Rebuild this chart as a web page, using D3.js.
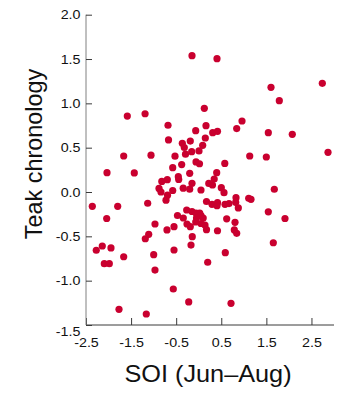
<!DOCTYPE html>
<html>
<head>
<meta charset="utf-8">
<script src="https://cdn.jsdelivr.net/npm/d3@7"></script>
<style>
  html, body { margin: 0; padding: 0; background: #fff; }
  svg { display: block; font-family: "Liberation Sans", Arial, Helvetica, sans-serif; }
</style>
</head>
<body>
<svg id="chart" width="360" height="400"></svg>
<script>
// SOI (Jun–Aug) values
const soi = [
  -1.584, -1.19, -0.149, 0.124, 0.405, 1.603, 2.741, 1.787, 0.96, -0.681,
  0.161, -0.067, 0.31, 0.416, -0.67, 0.146, -0.364, -0.187, -0.32, 0.088,
  0.006, -0.156, -0.293, -0.526, -1.664, -1.058, -0.06, 0.017, -0.378, -0.577,
  -2.034, -1.429, -0.2, 0.399, -0.453, -0.444, -0.697, -0.819, -0.149, 0.343,
  0.223, 0.305, 0.501, -0.881, -0.837, -0.577, -0.692, -0.344, -0.2, 0.05,
  -0.726, -1.132, -2.36, -1.797, 0.172, 0.294, 0.416, 0.405, 0.583, 0.671,
  0.827, 0.82, 1.108, 1.159, 0.878, 1.543, 0.62, 1.913, 0.805, 1.131,
  1.499, 2.867, 0.578, 1.543, 2.075, 0.842, 1.676, 0.561, -2.041, -0.471,
  -0.342, -0.267, -0.149, -0.06, 0.022, 0.05, 0.099, -0.049, 0.05, 0.139,
  -0.067, -0.26, -0.187, -0.143, -0.171, 0.172, 0.416, -0.97, -0.704, -0.548,
  -1.109, -1.185, -0.999, -0.97, -0.548, -0.564, -0.222, 0.199, 0.789, 0.842,
  1.654, 0.589, 0.716, -2.272, -2.139, -1.946, -2.094, -1.983, -1.664, -1.768,
  -1.163
];
// Teak chronology values
const teak = [
  0.857, 0.883, 1.538, 0.944, 1.504, 1.181, 1.226, 1.03, 0.801, 0.753,
  0.748, 0.692, 0.669, 0.685, 0.587, 0.609, 0.55, 0.575, 0.502, 0.527,
  0.463, 0.455, 0.427, 0.404, 0.406, 0.415, 0.339, 0.319, 0.31, 0.274,
  0.218, 0.215, 0.211, 0.218, 0.173, 0.141, 0.139, 0.119, 0.098, 0.147,
  0.097, 0.079, 0.049, 0.04, 0.0, 0.017, -0.036, 0.043, 0.032, 0.023,
  -0.092, -0.127, -0.161, -0.161, -0.107, -0.139, -0.12, -0.154, -0.139, -0.13,
  -0.064, -0.116, -0.071, -0.082, -0.18, -0.224, -0.302, -0.299, -0.342, 0.406,
  0.395, 0.448, 0.322, 0.669, 0.651, 0.716, 0.031, -0.008, -0.299, -0.265,
  -0.293, -0.203, -0.22, -0.237, -0.237, -0.265, -0.293, -0.293, -0.355, -0.372,
  -0.338, -0.361, -0.391, -0.504, -0.598, -0.425, -0.437, -0.361, -0.428, -0.391,
  -0.477, -0.527, -0.707, -0.88, -0.654, -1.094, -1.24, -0.792, -0.428, -0.466,
  -0.572, -0.684, -1.255, -0.657, -0.609, -0.631, -0.808, -0.808, -0.73, -1.323,
  -1.376
];
const xTicks = [-2.5, -1.5, -0.5, 0.5, 1.5, 2.5];
const yTicks = [-1.5, -1.0, -0.5, 0.0, 0.5, 1.0, 1.5, 2.0];
const xTitle = "SOI (Jun\u2013Aug)";
const yTitle = "Teak chronology";

const svg = d3.select("#chart");
const mLeft = 86, mRight = 334, mTop = 14.7, mBottom = 325;
const stretch = 1.1;

const x = d3.scaleLinear().domain([-2.5, 3.0]).range([mLeft, mRight]);
const y = d3.scaleLinear().domain([-1.5, 2.0]).range([mBottom, mTop]);

const fmt = d => d.toFixed(1);

// X axis (inward ticks)
const gx = svg.append("g")
  .attr("transform", `translate(0,${mBottom})`)
  .call(d3.axisBottom(x).tickValues(xTicks).tickSize(-7).tickPadding(13).tickFormat(fmt));
gx.select(".domain").attr("stroke", "#3a3a3a").attr("d", `M${mLeft},0H${mRight}`);
gx.selectAll(".tick line").attr("stroke", "#3a3a3a");
gx.selectAll(".tick text").attr("font-size", 13).attr("fill", "#111")
  .attr("font-family", "'Liberation Sans', Arial, sans-serif")
  .attr("transform", `scale(${stretch},1)`);

// Y axis (inward ticks)
const gy = svg.append("g")
  .attr("transform", `translate(${mLeft},0)`)
  .call(d3.axisLeft(y).tickValues(yTicks).tickSize(-6).tickPadding(5).tickFormat(fmt));
gy.select(".domain").attr("stroke", "#808080").attr("d", `M0,${mTop}V${mBottom}`);
gy.selectAll(".tick line").attr("stroke", "#3a3a3a");
gy.selectAll(".tick text").attr("font-size", 13).attr("fill", "#111")
  .attr("font-family", "'Liberation Sans', Arial, sans-serif")
  .attr("transform", `scale(${stretch},1)`)
  .attr("dy", d => d === -1.5 ? "0.78em" : "0.32em");

// Points
svg.append("g")
  .selectAll("circle")
  .data(soi.map((v, i) => [v, teak[i]]))
  .join("circle")
  .attr("cx", d => x(d[0]))
  .attr("cy", d => y(d[1]))
  .attr("r", 3.6)
  .attr("fill", "#c9002f");

// Axis titles
svg.append("text")
  .attr("transform", `translate(208,382) scale(${stretch},1)`)
  .attr("text-anchor", "middle")
  .attr("font-size", 23).attr("fill", "#111")
  .text(xTitle);

svg.append("text")
  .attr("transform", `translate(42,154) scale(1.05,1) rotate(-90)`)
  .attr("text-anchor", "middle")
  .attr("font-size", 23.4).attr("fill", "#111")
  .text(yTitle);
</script>
</body>
</html>
